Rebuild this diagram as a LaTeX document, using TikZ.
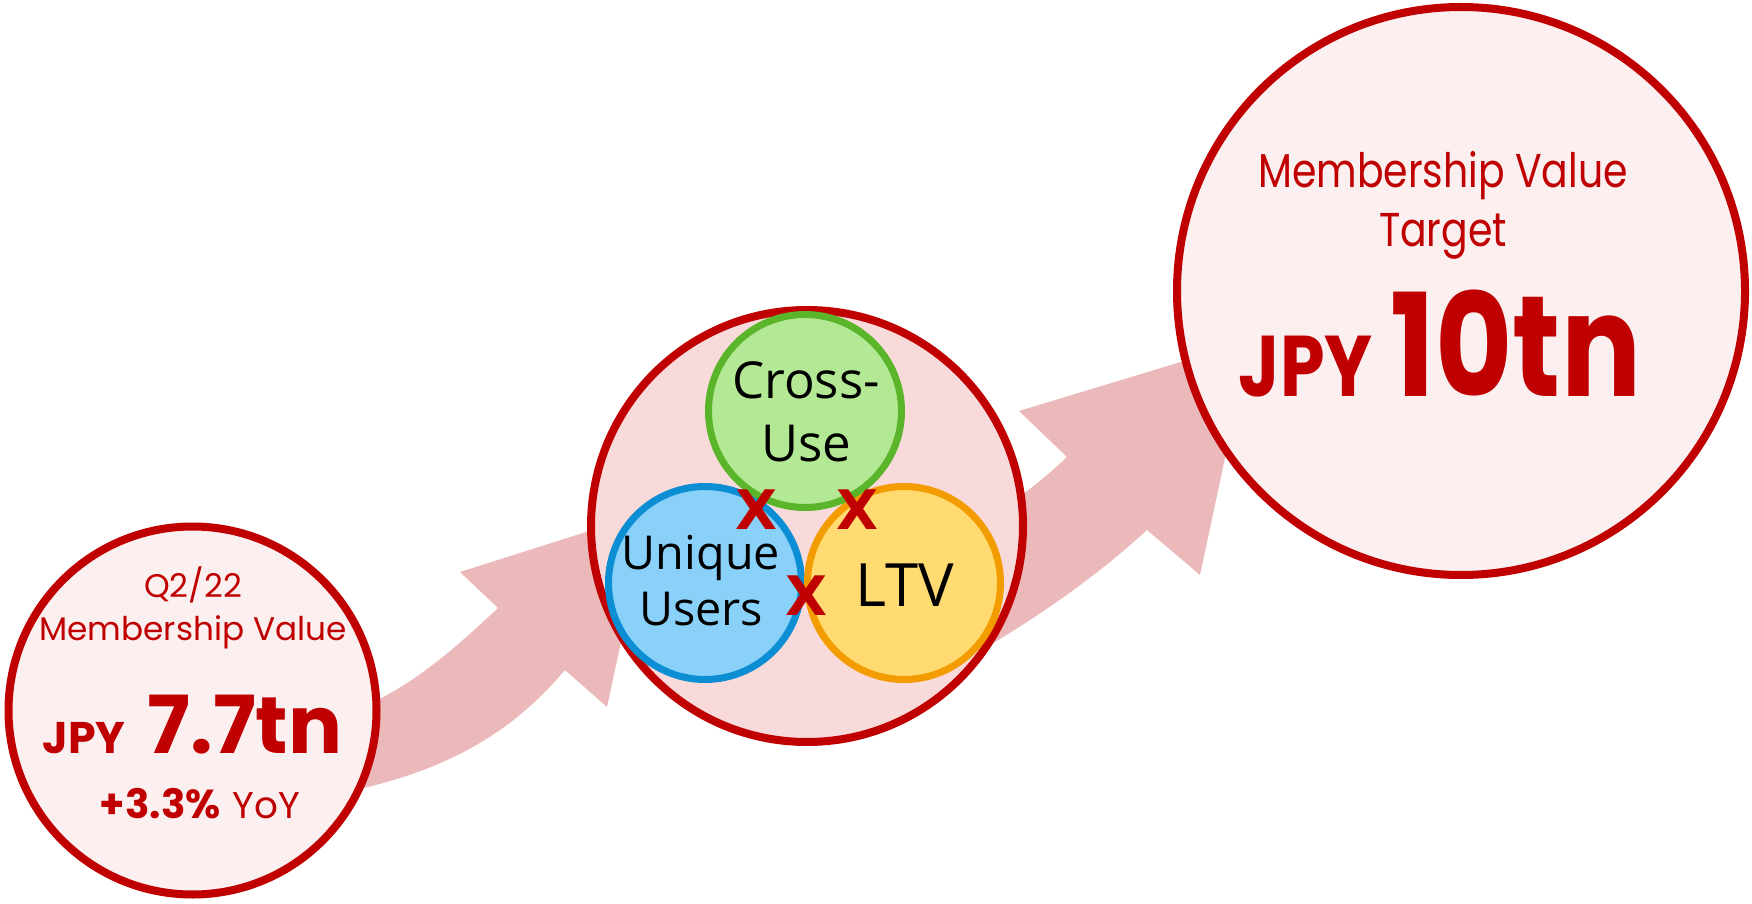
\documentclass[tikz,border=0pt]{standalone}
\usepackage{fontspec}
\setmainfont{Poppins}
\newfontfamily\targetfont[FakeStretch=0.83]{Poppins}
\newfontfamily\vennfont{Open Sans}
\newfontfamily\timesfont{DejaVu Sans}
\definecolor{rred}{HTML}{C00000}
\definecolor{palepink}{HTML}{FBEFEF}
\definecolor{midpink}{HTML}{F9DADA}
\definecolor{arrowpink}{HTML}{EBB9BA}
\definecolor{cugreen}{HTML}{5AB52A}
\definecolor{cufill}{HTML}{B3E994}
\definecolor{uublue}{HTML}{0C8ED4}
\definecolor{uufill}{HTML}{89D1F8}
\definecolor{ltvorange}{HTML}{F39C00}
\definecolor{ltvfill}{HTML}{FFDB72}
\begin{document}
\begin{tikzpicture}[
    bubble/.style={circle, draw=rred, line width=0.08cm, inner sep=0pt},
    venn/.style={circle, line width=0.07cm, minimum size=1.93cm, inner sep=0pt},
    redtext/.style={text=rred, inner sep=0pt, anchor=base},
    venntext/.style={inner sep=0pt, anchor=base, font=\vennfont\fontsize{13.3}{15}\selectfont},
    times/.style={text=rred, inner sep=0pt, font=\timesfont\bfseries\fontsize{15.5}{16}\selectfont},
    growth/.style={fill=arrowpink}
  ]
  \useasboundingbox (0,0) rectangle (17.52,9.03);
  % big arrows behind the circles
  \fill[growth] (3.5,1.12) .. controls (4.6,1.35) and (5.2,1.8) .. (5.65,2.33)
    -- (6.07,1.96) -- (6.49,3.91) -- (4.60,3.31) -- (4.98,2.95)
    .. controls (4.5,2.5) and (4.1,2.15) .. (3.5,1.9) -- cycle;
  \fill[growth] (9.5,2.35) .. controls (10.4,2.85) and (11.0,3.3) .. (11.47,3.73)
    -- (12.00,3.28) -- (12.50,5.62) -- (10.19,4.92) -- (10.67,4.46)
    .. controls (10.4,4.2) and (10.0,3.9) .. (9.5,3.6) -- cycle;
  % circles
  \node[bubble, fill=palepink, minimum size=3.68cm] (now) at (1.925,1.925) {};
  \node[bubble, fill=midpink, minimum size=4.32cm] (drivers) at (8.07,3.77) {};
  \node[bubble, fill=palepink, minimum size=5.68cm] (target) at (14.61,6.12) {};
  \node[venn, draw=uublue, fill=uufill] (users) at (7.05,3.20) {};
  \node[venn, draw=ltvorange, fill=ltvfill] (ltv) at (9.04,3.20) {};
  \node[venn, draw=cugreen, fill=cufill] (crossuse) at (8.05,4.92) {};
  % texts, left
  \node[redtext, font=\fontsize{9.3}{11}\selectfont] (nowq) at (1.93,3.06) {Q2/22};
  \node[redtext, font=\fontsize{9.3}{11}\selectfont] (nowmv) at (1.93,2.63) {Membership Value};
  \node[redtext] (nowval) at (1.925,1.50)
    {{\bfseries\fontsize{12.6}{15}\selectfont JPY}\hspace{0.22cm}{\bfseries\fontsize{22.8}{25}\selectfont 7.7tn}};
  \node[redtext] (nowyoy) at (2.00,0.85)
    {{\bfseries\fontsize{11.5}{13}\selectfont +3.3\%}\hspace{0.12cm}{\fontsize{10.6}{12}\selectfont YoY}};
  % texts, right
  \node[redtext, font=\targetfont\fontsize{13.5}{16}\selectfont] (targetmv) at (14.43,7.15) {Membership Value};
  \node[redtext, font=\targetfont\fontsize{13.5}{16}\selectfont] (targett) at (14.43,6.56) {Target};
  \node[redtext, font=\targetfont] (targetval) at (14.40,5.06)
    {{\bfseries\fontsize{24.5}{28}\selectfont JPY}\hspace{0.18cm}{\bfseries\fontsize{40.7}{44}\selectfont 10tn}};
  % texts, middle
  \node[venntext, font=\vennfont\fontsize{14.5}{16}\selectfont] (cu1) at (8.06,5.05) {Cross-};
  \node[venntext, font=\vennfont\fontsize{14.5}{16}\selectfont] (cu2) at (8.06,4.41) {Use};
  \node[venntext] (uu1) at (7.01,3.34) {Unique};
  \node[venntext] (uu2) at (7.01,2.78) {Users};
  \node[venntext, font=\vennfont\fontsize{17}{19}\selectfont] (ltvt) at (9.05,2.96) {LTV};
  \node[times] (x1) at (7.56,3.93) {X};
  \node[times] (x2) at (8.57,3.93) {X};
  \node[times] (x3) at (8.06,3.07) {X};
\end{tikzpicture}
\end{document}
